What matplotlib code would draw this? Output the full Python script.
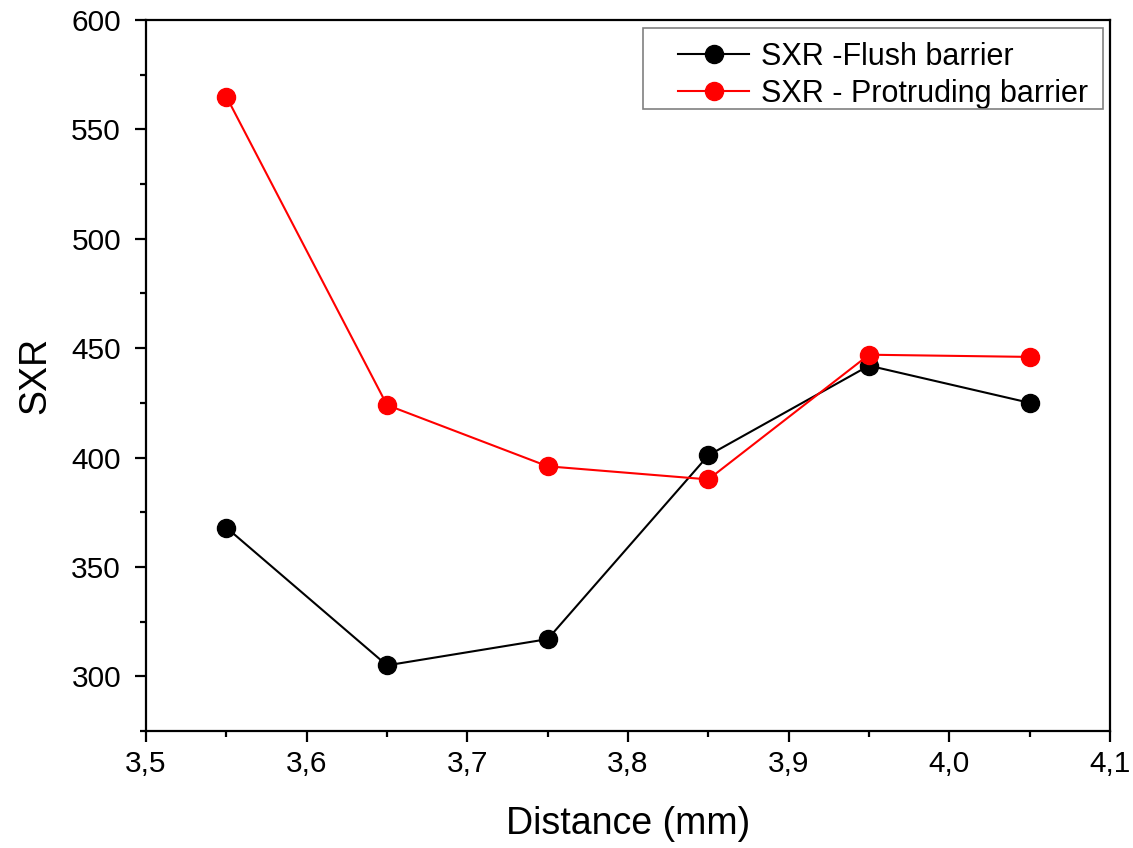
import matplotlib
matplotlib.use("Agg")
import matplotlib.pyplot as plt
from matplotlib.patches import Rectangle
from matplotlib.ticker import MultipleLocator, FuncFormatter

distance = [3.55, 3.65, 3.75, 3.85, 3.95, 4.05]
sxr_flush = [368, 305, 317, 401, 442, 425]
sxr_protruding = [565, 424, 396, 390, 447, 446]
label_flush = "SXR -Flush barrier"
label_protruding = "SXR - Protruding barrier"

plt.rcParams['font.family'] = ['Liberation Sans', 'DejaVu Sans']

W, H = 1133, 848
fig = plt.figure(figsize=(W/100, H/100), dpi=100)
ax = fig.add_axes([146/W, 1 - 731/H, (1110-146)/W, (731-20)/H])

ax.plot(distance, sxr_flush, color='black', marker='o', markersize=13, lw=1.5, label=label_flush)
ax.plot(distance, sxr_protruding, color='#ff0000', marker='o', markersize=13, lw=1.5, label=label_protruding)

ax.set_xlim(3.5, 4.1)
ax.set_ylim(275, 600)
ax.xaxis.set_major_locator(MultipleLocator(0.1))
ax.xaxis.set_minor_locator(MultipleLocator(0.05))
ax.yaxis.set_major_locator(MultipleLocator(50))
ax.yaxis.set_minor_locator(MultipleLocator(25))
ax.xaxis.set_major_formatter(FuncFormatter(lambda v, p: f"{v:.1f}".replace('.', ',')))
ax.yaxis.set_major_formatter(FuncFormatter(lambda v, p: f"{v:.0f}"))

for s in ax.spines.values():
    s.set_linewidth(1.6)
ax.tick_params(which='major', direction='out', length=8, width=1.6, labelsize=21.5)
ax.tick_params(which='minor', direction='out', length=4, width=1.6)
ax.tick_params(axis='x', which='major', pad=6)
ax.tick_params(axis='y', which='major', pad=10)
ax.tick_params(top=False, right=False)

ax.set_xlabel("Distance (mm)", fontsize=27, labelpad=20)
ax.set_ylabel("SXR", fontsize=27, labelpad=13)

leg = ax.legend(loc='upper right', bbox_to_anchor=(1088/W, 1 - 42/H),
                bbox_transform=fig.transFigure, fontsize=22, frameon=False,
                handlelength=2.3, borderaxespad=0, borderpad=0,
                handletextpad=0.4, labelspacing=0.22)

frame = Rectangle((643/W, 1 - 109/H), (1103-643)/W, (109-28)/H,
                  transform=fig.transFigure, fill=False, edgecolor='#808080',
                  linewidth=1.2, zorder=5)
fig.patches.append(frame)

fig.savefig("out.png", dpi=100)
